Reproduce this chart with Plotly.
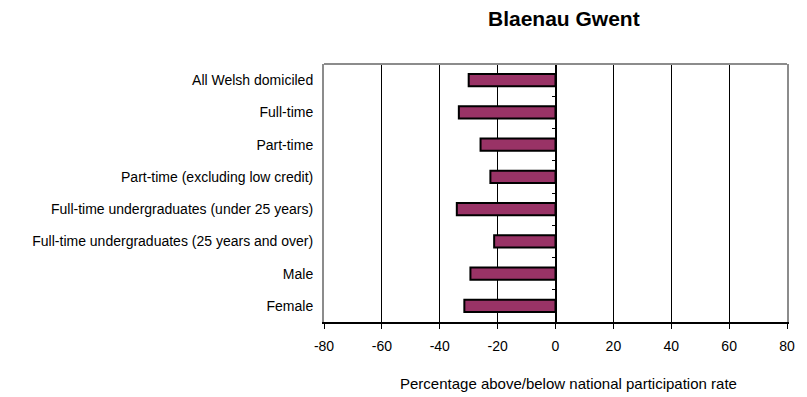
from plotly import graph_objects as go

# --- data
categories = [
    "All Welsh domiciled",
    "Full-time",
    "Part-time",
    "Part-time (excluding low credit)",
    "Full-time undergraduates (under 25 years)",
    "Full-time undergraduates (25 years and over)",
    "Male",
    "Female",
]
values = [-30.0, -33.4, -25.9, -22.5, -34.1, -21.2, -29.4, -31.5]
x_ticks = [-80, -60, -40, -20, 0, 20, 40, 60, 80]
x_ticklabels = [str(v) for v in x_ticks]  # plain hyphen minus, as in the original

title_text = "Blaenau Gwent"
x_title = "Percentage above/below national participation rate"

font_family = "Liberation Sans, Arial, sans-serif"
bar_color = "#993366"
border_grey = "#8c8c8c"

fig = go.Figure()

fig.add_trace(
    go.Bar(
        x=values,
        y=categories,
        orientation="h",
        width=0.38,
        marker=dict(color=bar_color, line=dict(color="black", width=2)),
        showlegend=False,
        hoverinfo="skip",
    )
)

# invisible trace so the tick-only axis at x=0 gets drawn
n = len(categories)
fig.add_trace(
    go.Scatter(
        x=[0, 0],
        y=[-0.5, n - 0.5],
        yaxis="y2",
        mode="lines",
        line=dict(color="rgba(0,0,0,0)", width=0),
        showlegend=False,
        hoverinfo="skip",
    )
)

fig.update_layout(
    width=807,
    height=397,
    margin=dict(l=324, r=16, t=64, b=75),
    paper_bgcolor="white",
    plot_bgcolor="white",
    font=dict(family=font_family, size=14, color="black"),
    title=dict(
        text=title_text,
        font=dict(family=font_family, size=21, color="black", weight="bold"),
        xref="paper",
        x=0.518,
        xanchor="center",
        yref="container",
        y=0.952,
        yanchor="middle",
    ),
    xaxis=dict(
        range=[-80, 80],
        tickvals=x_ticks,
        ticktext=x_ticklabels,
        showgrid=True,
        gridcolor="black",
        gridwidth=1,
        zeroline=True,
        zerolinecolor="black",
        zerolinewidth=1.5,
        showline=True,
        linecolor="black",
        linewidth=1.5,
        ticks="outside",
        ticklen=5,
        tickcolor="black",
        tickwidth=1.2,
        ticklabelstandoff=5,
        fixedrange=True,
    ),
    yaxis=dict(
        type="category",
        categoryorder="array",
        categoryarray=categories,
        range=[n - 0.5, -0.5],
        showgrid=False,
        zeroline=False,
        showline=True,
        linecolor=border_grey,
        linewidth=2,
        mirror=True,
        ticks="",
        ticklabelstandoff=6,
        fixedrange=True,
    ),
    yaxis2=dict(
        overlaying="y",
        anchor="free",
        position=0.5,
        side="right",
        range=[n - 0.5, -0.5],
        tickvals=[i - 0.5 for i in range(n + 1)],
        showticklabels=False,
        ticks="inside",
        ticklen=4,
        tickcolor="black",
        tickwidth=1.2,
        showgrid=False,
        zeroline=False,
        showline=False,
        fixedrange=True,
    ),
    shapes=[
        # grey top border of plot area
        dict(
            type="line",
            xref="x domain",
            yref="y domain",
            x0=0,
            x1=1,
            y0=1,
            y1=1,
            line=dict(color=border_grey, width=2),
        )
    ],
    annotations=[
        dict(
            text=x_title,
            xref="paper",
            yref="paper",
            x=0.529,
            y=-0.24,
            xanchor="center",
            yanchor="middle",
            showarrow=False,
            font=dict(family=font_family, size=15, color="black"),
        )
    ],
)

# drop the default body margin so the figure sits at the page's top-left
fig.write_html(
    "out.html",
    config={"displayModeBar": False},
    post_script="document.body.style.margin='0';",
)
